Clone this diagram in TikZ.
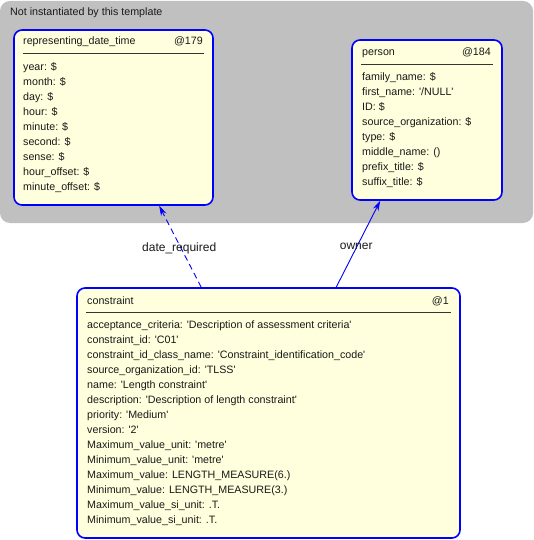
\documentclass[tikz,border=0pt]{standalone}
\usepackage{fontspec}
\setmainfont{Liberation Sans}[Ligatures=TeXOff]
\usepackage{tikz}
\usetikzlibrary{arrows.meta}
\usetikzlibrary{calc}
\definecolor{tmplgray}{RGB}{192,192,192}
\definecolor{entblue}{RGB}{0,0,255}
\definecolor{entfill}{RGB}{255,255,221}
\definecolor{txtgray}{RGB}{25,25,25}

\begin{document}
\begin{tikzpicture}[>={Stealth[length=10bp,width=6bp]},x=1bp,y=-1bp,font=\fontsize{10.7bp}{15bp}\selectfont,text=txtgray]
			\tikzstyle{region}=[fill=tmplgray,rounded corners=10bp,inner sep=0pt];
			\tikzstyle{entity}=[draw=entblue,fill=entfill,line width=1.6bp,rounded corners=8bp,inner sep=0pt];
			\tikzstyle{attrs}=[anchor=north west,align=left,inner sep=0pt];
			\tikzstyle{sep}=[draw=black!80,line width=0.9bp];
			\tikzstyle{assoc}=[draw=entblue,line width=0.9bp,->];
			\tikzstyle{role}=[font=\fontsize{12bp}{14bp}\selectfont];
			\useasboundingbox(0,0)rectangle(534,540);
			\node[region,minimum width=533bp,minimum height=222bp](tmpl)at(266.5,112){};
			\node[anchor=base west,inner sep=0pt](tmplname)at(10,16){Not instantiated by this template};
			\node[entity,minimum width=199bp,minimum height=175bp](rdt)at(113.5,117.5){};
			\node[entity,minimum width=150bp,minimum height=160bp](person)at(427,120){};
			\node[entity,minimum width=383bp,minimum height=250bp](constraint)at(268.5,413){};
			% representing_date_time
			\node[anchor=base west,inner sep=0pt](rdtname)at(23,45){representing\_date\_time};
			\node[anchor=base east,inner sep=0pt](rdtid)at(203,45){@179};
			\draw[sep]($(rdt.north west)+(9.5,24)$)--($(rdt.north east)+(-10,24)$);
			\node[attrs](rdtattr)at(23,62.5){year: \$\\month: \$\\day: \$\\hour: \$\\minute: \$\\second: \$\\sense: \$\\hour\_offset: \$\\minute\_offset: \$};
			% person
			\node[anchor=base west,inner sep=0pt](personname)at(362,56){person};
			\node[anchor=base east,inner sep=0pt](personid)at(491,56){@184};
			\draw[sep]($(person.north west)+(10,25)$)--($(person.north east)+(-10,25)$);
			\node[attrs](personattr)at(362,72.5){family\_name: \$\\first\_name: '/NULL'\\ID: \$\\source\_organization: \$\\type: \$\\middle\_name: ()\\prefix\_title: \$\\suffix\_title: \$};
			% constraint
			\node[anchor=base west,inner sep=0pt](constraintname)at(87,304){constraint};
			\node[anchor=base east,inner sep=0pt](constraintid)at(449,304){@1};
			\draw[sep]($(constraint.north west)+(10,25)$)--($(constraint.north east)+(-10,25)$);
			\node[attrs](constraintattr)at(87,320.5){acceptance\_criteria: 'Description of assessment criteria'\\constraint\_id: 'C01'\\constraint\_id\_class\_name: 'Constraint\_identification\_code'\\source\_organization\_id: 'TLSS'\\name: 'Length constraint'\\description: 'Description of length constraint'\\priority: 'Medium'\\version: '2'\\Maximum\_value\_unit: 'metre'\\Minimum\_value\_unit: 'metre'\\Maximum\_value: LENGTH\_MEASURE(6.)\\Minimum\_value: LENGTH\_MEASURE(3.)\\Maximum\_value\_si\_unit: .T.\\Minimum\_value\_si\_unit: .T.};
			% associations
			\draw[assoc,dash pattern=on 6bp off 4bp]($(constraint.north west)+(125,0)$)--node[role,xshift=-1bp,yshift=-2bp]{date\_required}($(rdt.south west)+(146,0)$);
			\draw[assoc]($(constraint.north west)+(260,0)$)--node[role,xshift=-2bp,yshift=-2bp]{owner}($(person.south west)+(29,0)$);
		\end{tikzpicture}
\end{document}
